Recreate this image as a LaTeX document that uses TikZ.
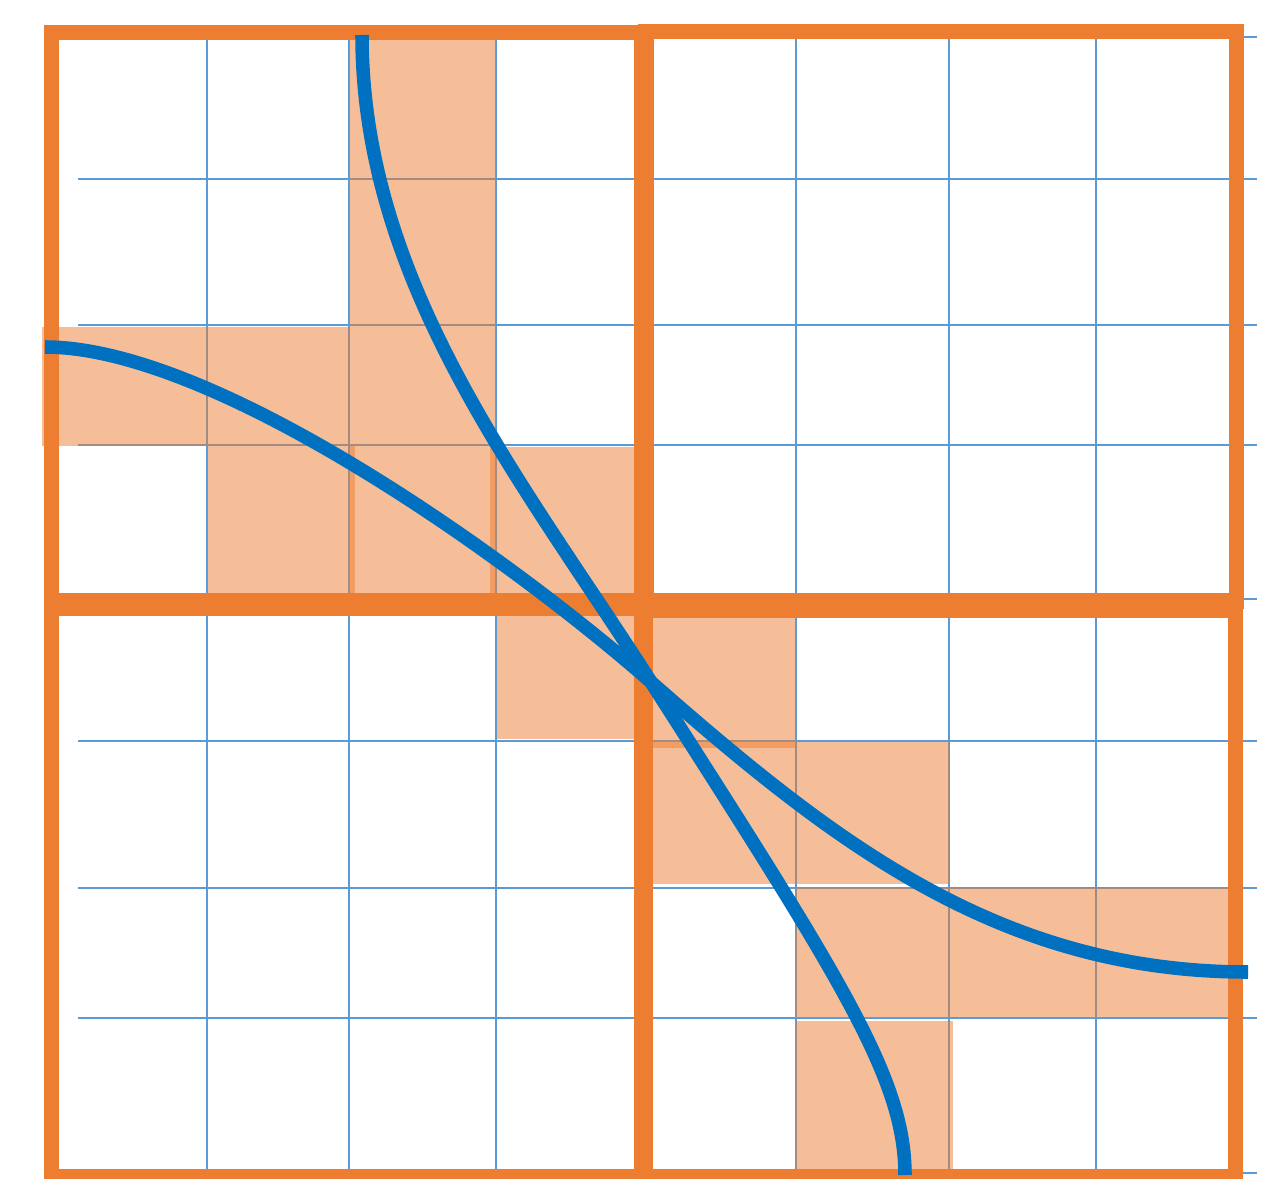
\documentclass[tikz,border=0pt]{standalone}
\definecolor{orng}{HTML}{ED7D31}
\definecolor{gridblue}{HTML}{5B9BD5}
\definecolor{curveblue}{HTML}{0070C0}
\tikzset{
  gridline/.style={draw=gridblue, line width=0.7pt},
  cellfill/.style={fill=orng, fill opacity=0.5},
  quadbox/.style={draw=orng, line width=4.3pt},
  curveline/.style={draw=curveblue, line width=3.85pt},
}
\begin{document}
\begin{tikzpicture}[x=0.01cm,y=-0.01cm]
\useasboundingbox (0,0) rectangle (1279,1179);
% grid
\foreach \y in {37,179,325,445,599,741,888,1018,1173}
  \draw[gridline] (78,\y) -- (1257,\y);
\foreach \x in {207,349,496,644,796,949,1096}
  \draw[gridline] (\x,37) -- (\x,1173);
% shaded cells
\fill[cellfill] (349,37) rectangle (496,600);
\fill[cellfill] (42,327) rectangle (349,446);
\fill[cellfill] (207,446) rectangle (355,600);
\fill[cellfill] (490,447) rectangle (640,600);
\fill[cellfill] (497,608) rectangle (640,739);
\fill[cellfill] (644,612) rectangle (796,748);
\fill[cellfill] (644,741) rectangle (949,884);
\fill[cellfill] (795,888) rectangle (1236,1018);
\fill[cellfill] (795,1021) rectangle (953,1178);
% quadrant boxes
\draw[quadbox] (51.5,32.5) rectangle (642,601);
\draw[quadbox] (646,31.5) rectangle (1236.5,601);
\draw[quadbox] (51.5,608) rectangle (642,1177);
\draw[quadbox] (645,610.5) rectangle (1235.5,1177);
% curves
\coordinate (cross) at (651,682);
\coordinate (aTop) at (362,35);
\coordinate (aBot) at (905,1175);
\coordinate (bLeft) at (45,347);
\coordinate (bRight) at (1248,972);
\draw[curveline] (aTop) .. controls (362,285) and (523,482) .. (cross)
  .. controls (843,982) and (905,1079) .. (aBot);
\draw[curveline] (bLeft) .. controls (215,347) and (511,559) .. (cross)
  .. controls (831,840) and (998,972) .. (bRight);
\end{tikzpicture}
\end{document}
